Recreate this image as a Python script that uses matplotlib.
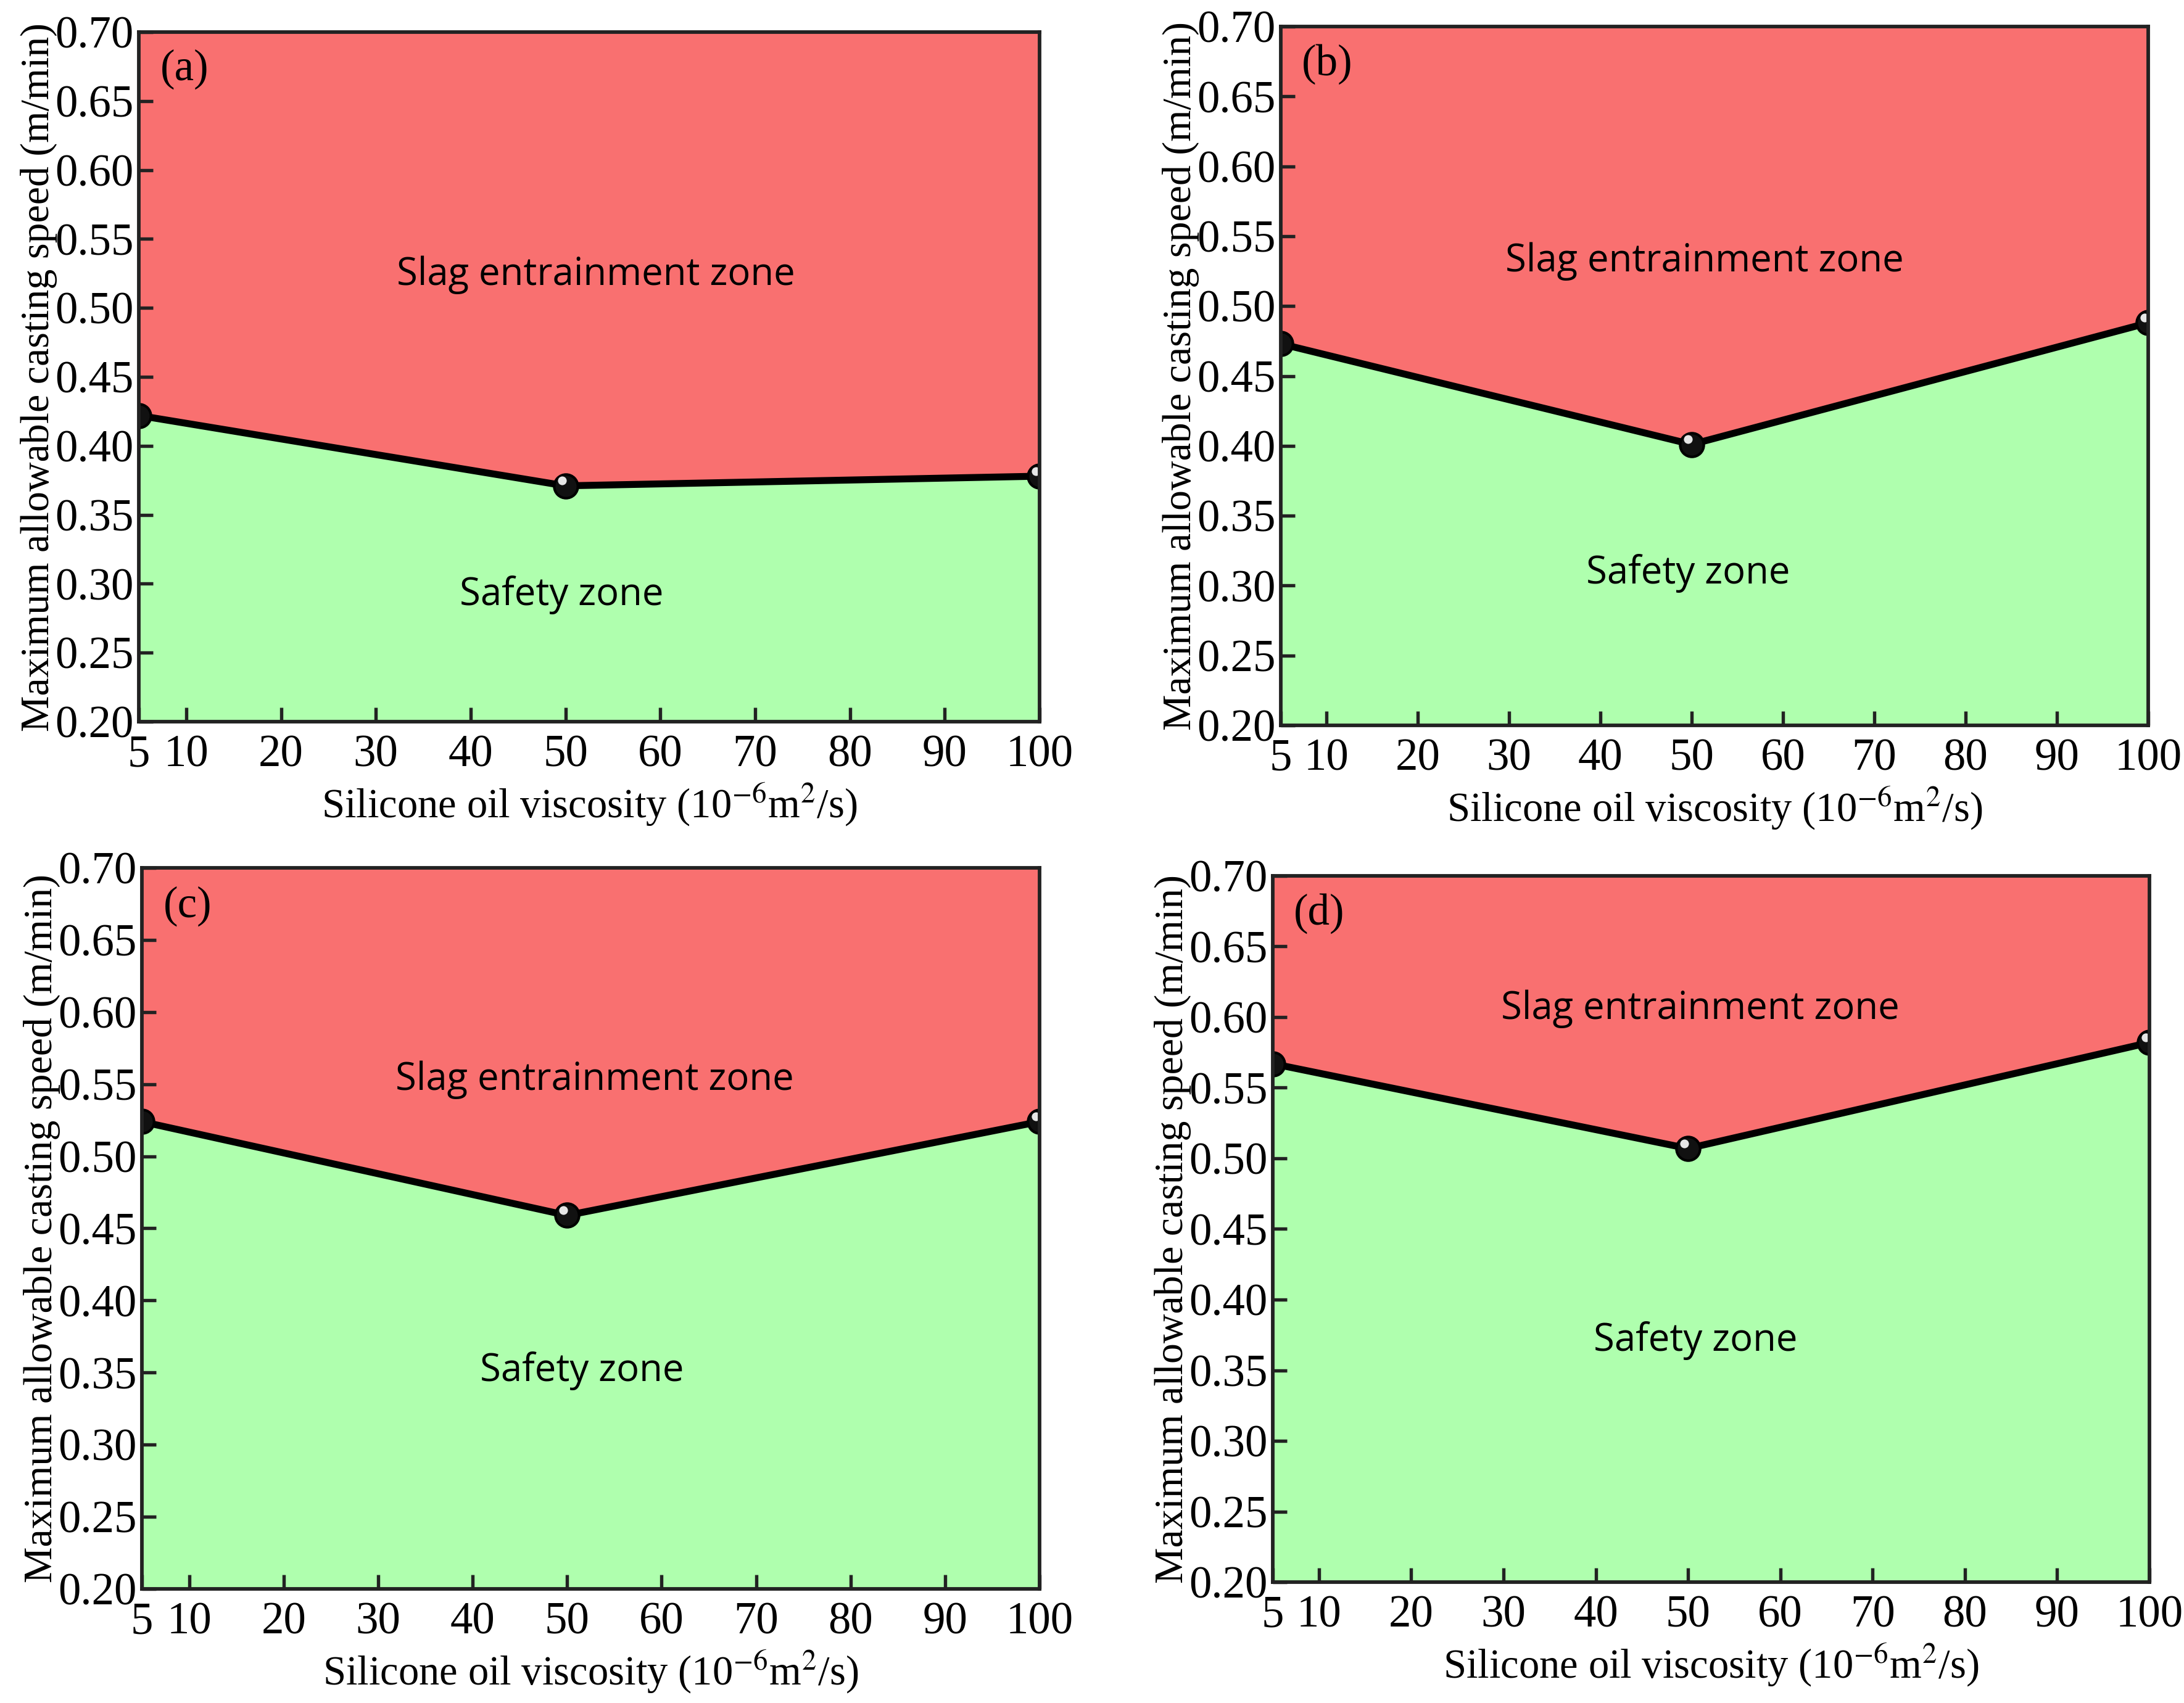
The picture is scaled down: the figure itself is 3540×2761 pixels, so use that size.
import matplotlib
matplotlib.use("Agg")
import matplotlib.pyplot as plt
from matplotlib.transforms import offset_copy

plt.rcParams['font.family'] = ['Liberation Serif', 'DejaVu Serif']
plt.rcParams['mathtext.fontset'] = 'stix'

# viscosity (10^-6 m^2/s)
viscosity = [5, 50, 100]

# maximum allowable casting speed (m/min) for each panel
speed_a = [0.422, 0.371, 0.378]
speed_b = [0.473, 0.401, 0.488]
speed_c = [0.524, 0.459, 0.524]
speed_d = [0.567, 0.507, 0.582]

panel_tags = ['(a)', '(b)', '(c)', '(d)']
x_ticks = [5, 10, 20, 30, 40, 50, 60, 70, 80, 90, 100]
y_ticks = [0.20, 0.25, 0.30, 0.35, 0.40, 0.45, 0.50, 0.55, 0.60, 0.65, 0.70]

# where the zone names sit (data coords)
slag_pos = [(53.2, 0.524), (51.4, 0.532), (52.9, 0.553), (51.3, 0.606)]
safe_pos = [(49.6, 0.292), (49.6, 0.309), (51.6, 0.351), (50.8, 0.371)]

red = '#F97070'
green = '#AFFFAE'

W, H = 3540, 2761
fig = plt.figure(figsize=(W / 300, H / 300), dpi=300)

# axes boxes in pixels: left, right, top, bottom
boxes = [(225, 1685, 52, 1170), (2076, 3482, 43, 1176),
         (230, 1685, 1407, 2576), (2063, 3484, 1420, 2565)]

all_speed = [speed_a, speed_b, speed_c, speed_d]

for i in range(4):
    l, r, t, b = boxes[i]
    ax = fig.add_axes([l / W, 1 - b / H, (r - l) / W, (b - t) / H])
    y = all_speed[i]
    ax.fill_between(viscosity, y, 0.2, color=green, lw=0)
    ax.fill_between(viscosity, y, 0.7, color=red, lw=0)
    ax.plot(viscosity, y, color='black', lw=2.7, marker='o', ms=9.2,
            mfc='#111111', mec='black', zorder=3)
    # little shine on the balls
    shine = offset_copy(ax.transData, fig=fig, x=-1.4, y=2.0, units='points')
    ax.plot(viscosity, y, ls='none', marker='o', ms=3.4, mfc='#e6e6e6',
            mec='none', transform=shine, zorder=4)

    ax.set_xlim(5, 100)
    ax.set_ylim(0.2, 0.7)
    ax.set_xticks(x_ticks)
    ax.set_yticks(y_ticks)
    ax.set_xticklabels([str(v) for v in x_ticks])
    ax.set_yticklabels(['%.2f' % v for v in y_ticks])
    ax.tick_params(direction='in', length=5.5, width=1.3, labelsize=17.5,
                   top=False, right=False, color='#222222')
    ax.tick_params(axis='x', pad=5)
    ax.tick_params(axis='y', pad=2)
    for s in ax.spines.values():
        s.set_linewidth(1.4)
        s.set_color('#222222')
        s.set_zorder(5)

    ax.set_xlabel(r'Silicone oil viscosity (10$^{-6}$m$^{2}$/s)', fontsize=16,
                  labelpad=2)
    ax.set_ylabel('Maximum allowable casting speed (m/min)', fontsize=15.8,
                  labelpad=-1)

    ax.text(0.024, 0.975, panel_tags[i], transform=ax.transAxes, fontsize=17,
            ha='left', va='top')
    ax.text(slag_pos[i][0], slag_pos[i][1], 'Slag entrainment zone',
            family=['Open Sans', 'DejaVu Sans'], fontsize=14.8,
            ha='center', va='center')
    ax.text(safe_pos[i][0], safe_pos[i][1], 'Safety zone',
            family=['Open Sans', 'DejaVu Sans'], fontsize=14.8,
            ha='center', va='center')

fig.savefig('out.png', dpi=300)
